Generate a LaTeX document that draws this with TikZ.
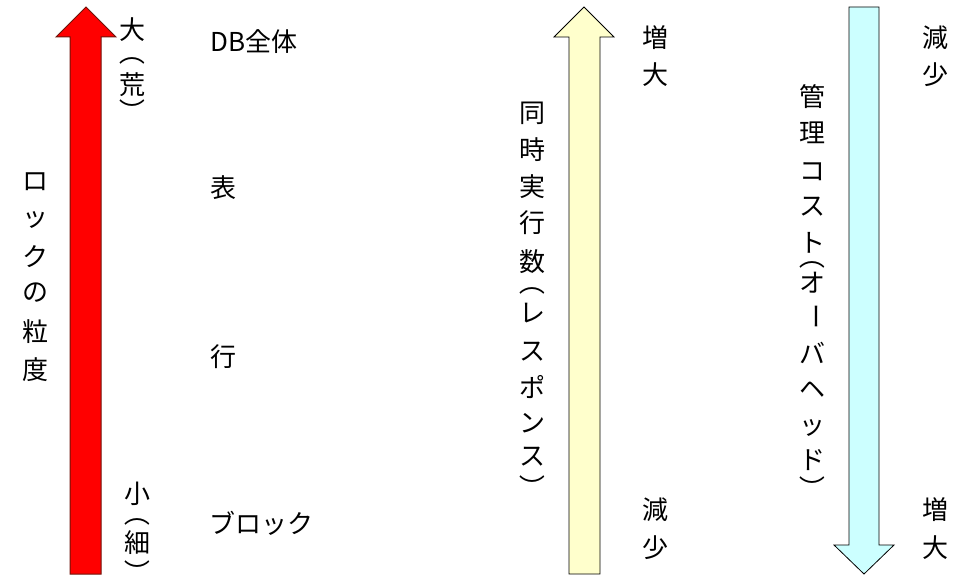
\documentclass[tikz,border=0pt]{standalone}
\usepackage{fontspec}
\setmainfont{Noto Sans CJK JP}
\definecolor{redfill}{RGB}{255,0,0}
\definecolor{redline}{RGB}{110,20,10}
\definecolor{yelfill}{RGB}{255,255,204}
\definecolor{cyanfill}{RGB}{204,255,255}
\begin{document}
\begin{tikzpicture}[x=1pt,y=1pt,
  ch/.style={inner sep=0pt,font=\fontsize{26}{26}\selectfont},
  vp/.style={inner sep=0pt,font=\fontsize{26}{26}\selectfont,rotate=-90},
  lbl/.style={inner sep=0pt,font=\fontsize{26}{26}\selectfont,anchor=west}]
\useasboundingbox (0,0) rectangle (963,584);
% arrows
\draw[fill=redfill,draw=redline,line width=1pt,line join=miter]
  (86,577) -- (116,547) -- (101,547) -- (101,10) -- (70,10) -- (70,547) -- (56,547) -- cycle;
\draw[fill=yelfill,draw=black,line width=0.8pt]
  (584,577) -- (614,547) -- (600,547) -- (600,10) -- (569,10) -- (569,547) -- (554,547) -- cycle;
\draw[fill=cyanfill,draw=black,line width=0.8pt]
  (864,10) -- (894,39) -- (879,39) -- (879,577) -- (849,577) -- (849,39) -- (834,39) -- cycle;
% left vertical label
\node[ch] (l1) at (35,402) {ロ};
\node[ch] (l2) at (35,364) {ッ};
\node[ch] (l3) at (35,327) {ク};
\node[ch] (l4) at (35,291) {の};
\node[ch] (l5) at (35,252) {粒};
\node[ch] (l6) at (35,214) {度};
% red arrow side labels
\node[ch] (a1) at (132,554) {大};
\node[vp] (a2) at (132,531) {（};
\node[ch] (a3) at (132,499) {荒};
\node[vp] (a4) at (132,472) {）};
\node[ch] (b1) at (137,90) {小};
\node[vp] (b2) at (137,71) {（};
\node[ch] (b3) at (137,41) {細};
\node[vp] (b4) at (137,12) {）};
% levels
\node[lbl] (db) at (210,542) {DB全体};
\node[lbl] (hy) at (210,396) {表};
\node[lbl] (gy) at (210,227) {行};
\node[lbl] (bl) at (209,61) {ブロック};
% middle vertical label
\node[ch] (m1) at (532,471) {同};
\node[ch] (m2) at (532,434) {時};
\node[ch] (m3) at (532,397) {実};
\node[ch] (m4) at (532,361) {行};
\node[ch] (m5) at (532,322) {数};
\node[vp] (m6) at (532,301) {（};
\node[ch] (m7) at (532,271) {レ};
\node[ch] (m8) at (532,232) {ス};
\node[ch] (m9) at (532,197) {ポ};
\node[ch] (m10) at (532,161) {ン};
\node[ch] (m11) at (532,127) {ス};
\node[vp] (m12) at (532,97) {）};
\node[ch] (u1) at (655,546) {増};
\node[ch] (u2) at (655,509) {大};
\node[ch] (u3) at (655,74) {減};
\node[ch] (u4) at (655,36) {少};
% right vertical label
\node[ch] (r1) at (812,487) {管};
\node[ch] (r2) at (812,451) {理};
\node[ch] (r3) at (812,412) {コ};
\node[ch] (r4) at (812,377) {ス};
\node[ch] (r5) at (812,341) {ト};
\node[vp] (r6) at (812,327) {（};
\node[ch] (r7) at (812,301) {オ};
\node[vp] (r8) at (812,267) {ー};
\node[ch] (r9) at (812,231) {バ};
\node[ch] (r10) at (812,194) {ヘ};
\node[ch] (r11) at (812,156) {ッ};
\node[ch] (r12) at (812,124) {ド};
\node[vp] (r13) at (812,96) {）};
\node[ch] (v1) at (935,546) {減};
\node[ch] (v2) at (935,509) {少};
\node[ch] (v3) at (935,74) {増};
\node[ch] (v4) at (935,36) {大};
\end{tikzpicture}
\end{document}
